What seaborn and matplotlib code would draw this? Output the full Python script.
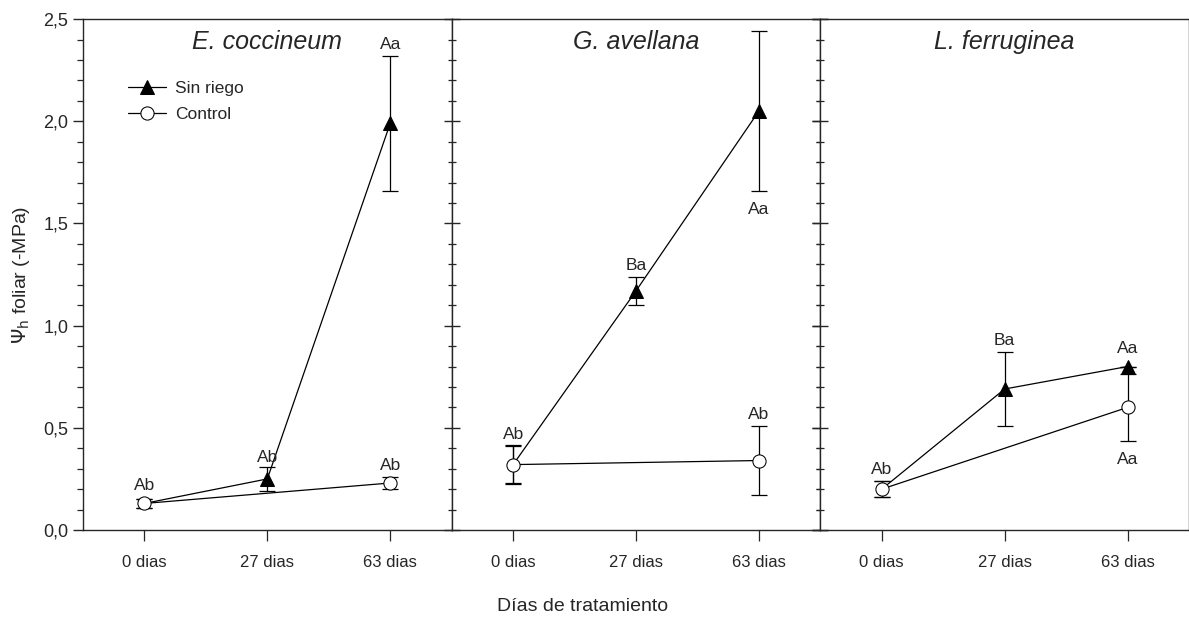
import numpy as np
import pandas as pd
import matplotlib
matplotlib.use("Agg")
import matplotlib.pyplot as plt
import seaborn as sns
from matplotlib.ticker import MultipleLocator, FuncFormatter

# ===============================
# DATA
# ===============================
species = ["E. coccineum", "G. avellana", "L. ferruginea"]
days = ["0 dias", "27 dias", "63 dias"]

sin_riego = [[0.13, 0.25, 1.99], [0.32, 1.17, 2.05], [0.20, 0.69, 0.80]]
sin_riego_err = [[0.02, 0.06, 0.33], [0.09, 0.07, 0.39], [0.04, 0.18, 0.00]]
control = [[0.13, np.nan, 0.23], [0.32, np.nan, 0.34], [0.20, np.nan, 0.60]]
control_err = [[0.02, np.nan, 0.03], [0.095, np.nan, 0.17], [0.04, np.nan, 0.165]]

# letters: (day index, y, text)
letters = [
    [(0, 0.18, "Ab"), (1, 0.32, "Ab"), (2, 2.34, "Aa"), (2, 0.28, "Ab")],
    [(0, 0.43, "Ab"), (1, 1.26, "Ba"), (2, 1.53, "Aa"), (2, 0.53, "Ab")],
    [(0, 0.26, "Ab"), (1, 0.89, "Ba"), (2, 0.85, "Aa"), (2, 0.31, "Aa")],
]

# ===============================
# PLOT
# ===============================
sns.set_style("ticks")
plt.rcParams["font.family"] = ["Liberation Sans", "DejaVu Sans"]

fig, axes = plt.subplots(1, 3, figsize=(11.89, 6.17), dpi=100, sharey=True)
fig.subplots_adjust(left=0.0698, right=1.0, bottom=0.141, top=0.969, wspace=0)

for i, ax in enumerate(axes):
    df = pd.DataFrame({
        "x": [0, 1, 2] * 2,
        "y": sin_riego[i] + control[i],
        "trat": ["Sin riego"] * 3 + ["Control"] * 3,
    }).dropna()

    for j, name in enumerate(["Sin riego", "Control"]):
        sub = df[df["trat"] == name]
        vals = np.array(sin_riego[i] if j == 0 else control[i])
        err = np.array(sin_riego_err[i] if j == 0 else control_err[i])[~np.isnan(vals)]
        ax.errorbar(sub["x"], sub["y"], yerr=err, fmt="none", ecolor="black",
                    elinewidth=0.9, capsize=5.5, capthick=0.9, zorder=1)

    sns.lineplot(data=df, x="x", y="y", hue="trat", style="trat",
                 hue_order=["Sin riego", "Control"],
                 palette={"Sin riego": "black", "Control": "black"},
                 markers={"Sin riego": "^", "Control": "o"},
                 dashes=False, linewidth=0.9, markersize=9.5,
                 markeredgecolor="black", ax=ax, legend=(i == 0), zorder=3)
    for line in ax.lines:
        if line.get_marker() == "o":
            line.set_markerfacecolor("white")
            line.set_zorder(4)
        elif line.get_marker() == "^":
            # the day-0 triangle sits under the control circle
            line.set_markevery([1, 2])

    ax.set_xlim(-0.5, 2.5)
    ax.set_ylim(0, 2.5)
    ax.set_xticks([0, 1, 2])
    ax.set_xticklabels(days, fontsize=12)
    ax.set_xlabel("")
    ax.set_ylabel("")
    ax.yaxis.set_major_locator(MultipleLocator(0.5))
    ax.yaxis.set_minor_locator(MultipleLocator(0.1))
    ax.tick_params(axis="x", direction="out", length=8, width=0.9, pad=10)
    for s in ax.spines.values():
        s.set_linewidth(1.0)
        s.set_visible(True)

    if i == 0:
        ax.tick_params(axis="y", which="major", direction="out", length=7, width=1.0, labelsize=13)
        ax.tick_params(axis="y", which="minor", direction="out", length=4, width=0.9)
        ax.yaxis.set_major_formatter(FuncFormatter(lambda v, p: f"{v:.1f}".replace(".", ",")))
    else:
        ax.tick_params(axis="y", which="major", direction="inout", length=12, width=1.0,
                       left=True, right=(i == 1), labelleft=False)
        ax.tick_params(axis="y", which="minor", direction="inout", length=6, width=0.9,
                       left=True, right=(i == 1))

    ax.text(1.0, 2.39, species[i], ha="center", va="center", fontsize=18, style="italic")

    for xi, yi, t in letters[i]:
        ax.text(xi, yi, t, ha="center", va="bottom", fontsize=12.5)

leg = axes[0].legend(loc="upper left", bbox_to_anchor=(0.08, 0.91), frameon=False,
                     fontsize=12.5, handlelength=2.2, handletextpad=0.5, labelspacing=0.65)
for h in leg.legend_handles:
    if h.get_marker() == "o":
        h.set_markerfacecolor("white")

axes[0].set_ylabel(r"$\Psi_{\rm h}$ foliar (-MPa)", fontsize=14, labelpad=8)
fig.text(0.49, 0.017, "Días de tratamiento", ha="center", va="center", fontsize=14)

plt.savefig("out.png", dpi=100)
